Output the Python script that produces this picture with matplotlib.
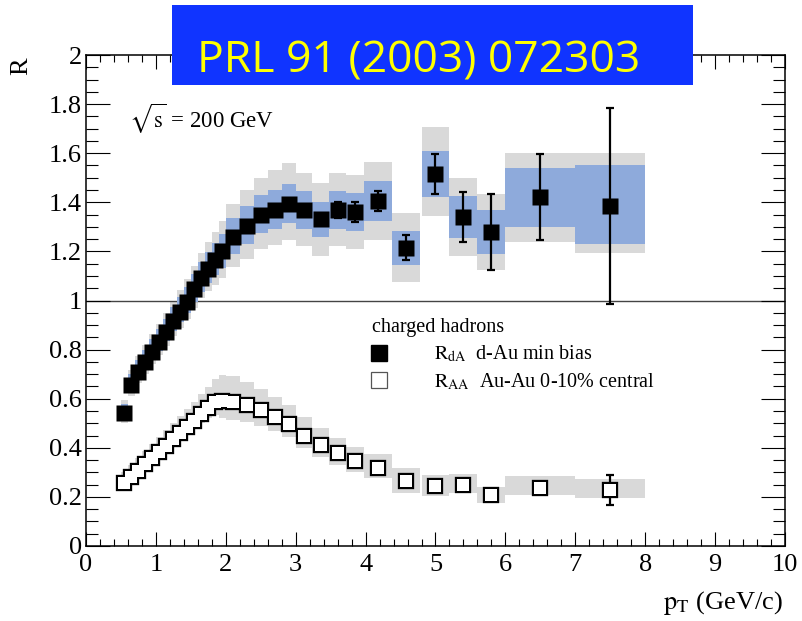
import matplotlib
matplotlib.use('Agg')
import matplotlib.pyplot as plt
from matplotlib.patches import Rectangle
from matplotlib.lines import Line2D
from matplotlib.ticker import MultipleLocator, FuncFormatter
import numpy as np

plt.rcParams['font.family'] = ['Liberation Serif', 'DejaVu Serif']
plt.rcParams['mathtext.fontset'] = 'stix'

# ---------------- data ----------------
pT = [0.55, 0.65, 0.75, 0.85, 0.95, 1.05, 1.15, 1.25, 1.35, 1.45, 1.55, 1.65, 1.75, 1.85, 1.95,
      2.1, 2.3, 2.5, 2.7, 2.9, 3.12, 3.36, 3.6, 3.85, 4.18, 4.58, 5.0, 5.4, 5.8, 6.5, 7.5]
bin_width = [0.1, 0.1, 0.1, 0.1, 0.1, 0.1, 0.1, 0.1, 0.1, 0.1, 0.1, 0.1, 0.1, 0.1, 0.1,
             0.2, 0.2, 0.2, 0.2, 0.2, 0.24, 0.24, 0.25, 0.25, 0.4, 0.4, 0.4, 0.4, 0.4, 1.0, 1.0]

# d-Au min bias
R_dA = [0.54, 0.655, 0.71, 0.75, 0.79, 0.83, 0.87, 0.915, 0.955, 0.995, 1.045, 1.09, 1.13, 1.165, 1.20,
        1.26, 1.305, 1.35, 1.37, 1.395, 1.37, 1.33, 1.37, 1.36, 1.405, 1.215, 1.515, 1.34, 1.28, 1.42, 1.385]
stat_dA = [0.005, 0.005, 0.005, 0.005, 0.005, 0.005, 0.005, 0.005, 0.005, 0.005, 0.006, 0.006, 0.006, 0.007, 0.007,
           0.008, 0.008, 0.009, 0.01, 0.012, 0.015, 0.02, 0.032, 0.04, 0.042, 0.05, 0.08, 0.10, 0.155, 0.175, 0.40]
blue_dA_hi = [0.04, 0.045, 0.048, 0.05, 0.052, 0.054, 0.056, 0.058, 0.06, 0.062, 0.064, 0.066, 0.068, 0.07, 0.072,
              0.076, 0.078, 0.079, 0.08, 0.08, 0.078, 0.073, 0.077, 0.078, 0.082, 0.07, 0.095, 0.085, 0.09, 0.12, 0.165]
blue_dA_lo = [0.025, 0.027, 0.029, 0.031, 0.033, 0.035, 0.037, 0.04, 0.043, 0.046, 0.05, 0.054, 0.058, 0.062, 0.066,
              0.07, 0.074, 0.076, 0.078, 0.08, 0.078, 0.073, 0.077, 0.078, 0.082, 0.07, 0.095, 0.085, 0.09, 0.12, 0.155]
gray_dA_hi = [0.055, 0.06, 0.064, 0.068, 0.072, 0.076, 0.08, 0.084, 0.088, 0.092, 0.097, 0.102, 0.108, 0.115, 0.122,
              0.135, 0.145, 0.15, 0.16, 0.165, 0.15, 0.15, 0.15, 0.15, 0.16, 0.14, 0.19, 0.16, 0.155, 0.18, 0.215]
gray_dA_lo = [0.04, 0.042, 0.045, 0.048, 0.05, 0.053, 0.056, 0.06, 0.065, 0.07, 0.075, 0.08, 0.09, 0.10, 0.11,
              0.125, 0.135, 0.14, 0.145, 0.15, 0.15, 0.15, 0.15, 0.15, 0.16, 0.14, 0.17, 0.16, 0.155, 0.18, 0.19]

# Au-Au 0-10% central
R_AA = [0.255, 0.281, 0.306, 0.332, 0.357, 0.383, 0.408, 0.434, 0.459, 0.485, 0.51, 0.536, 0.561, 0.585, 0.59,
        0.588, 0.575, 0.555, 0.527, 0.497, 0.45, 0.411, 0.379, 0.346, 0.318, 0.265, 0.244, 0.25, 0.206, 0.236, 0.228]
stat_AA = [0.003, 0.003, 0.003, 0.003, 0.003, 0.003, 0.003, 0.003, 0.003, 0.003, 0.003, 0.003, 0.004, 0.004, 0.004,
           0.004, 0.004, 0.005, 0.005, 0.005, 0.006, 0.006, 0.007, 0.008, 0.009, 0.01, 0.012, 0.014, 0.016, 0.022, 0.062]
gray_AA_hi = [0.045, 0.05, 0.052, 0.055, 0.058, 0.06, 0.063, 0.066, 0.07, 0.073, 0.077, 0.082, 0.088, 0.095, 0.105,
              0.105, 0.095, 0.085, 0.08, 0.078, 0.075, 0.068, 0.062, 0.057, 0.055, 0.053, 0.045, 0.043, 0.034, 0.048, 0.045]
gray_AA_lo = [0.025, 0.025, 0.026, 0.027, 0.028, 0.029, 0.03, 0.03, 0.031, 0.032, 0.034, 0.036, 0.04, 0.05, 0.07,
              0.075, 0.07, 0.065, 0.06, 0.055, 0.05, 0.05, 0.048, 0.045, 0.043, 0.049, 0.04, 0.034, 0.032, 0.028, 0.032]

x_ticks = [0, 1, 2, 3, 4, 5, 6, 7, 8, 9, 10]
y_ticks = [0, 0.2, 0.4, 0.6, 0.8, 1.0, 1.2, 1.4, 1.6, 1.8, 2.0]

GRAY = '#d9d9d9'
BLUE = '#8eaadb'
PX = 72.0 / 100.0  # points per pixel

# ---------------- figure ----------------
fig = plt.figure(figsize=(8.03, 6.21), dpi=100)
ax = fig.add_axes([86 / 803, 1 - 546 / 621, 699 / 803, 491 / 621])

pT_a = np.array(pT)
w_a = np.array(bin_width)

def boxes(R, lo, hi, color, z):
    R = np.array(R); lo = np.array(lo); hi = np.array(hi)
    ax.bar(pT_a, lo + hi, bottom=R - lo, width=w_a, color=color, linewidth=0, zorder=z)

boxes(R_dA, gray_dA_lo, gray_dA_hi, GRAY, 1)
boxes(R_dA, blue_dA_lo, blue_dA_hi, BLUE, 2)
boxes(R_AA, gray_AA_lo, gray_AA_hi, GRAY, 1)

ax.axhline(1.0, color='#444444', lw=1.0, zorder=1.5)

# error bars
ax.errorbar(pT, R_dA, yerr=stat_dA, fmt='none', ecolor='k', elinewidth=1.6,
            capsize=3.0, capthick=1.6, zorder=4)
ax.errorbar(pT, R_AA, yerr=stat_AA, fmt='none', ecolor='k', elinewidth=1.6,
            capsize=3.0, capthick=1.6, zorder=4)

# markers
ax.plot(pT, R_dA, ls='none', marker='s', ms=16 * PX, mfc='k', mec='none', zorder=5)
ax.plot(pT, R_AA, ls='none', marker='s', ms=14.5 * PX, mfc='white', mec='k', mew=2.3 * PX, zorder=5)
ax.plot(pT, R_AA, ls='none', marker='s', ms=12.2 * PX, mfc='white', mec='none', mew=0, zorder=5.1)

# axes styling
ax.set_xlim(0, 10)
ax.set_ylim(0, 2)
ax.set_xticks(x_ticks)
ax.set_yticks(y_ticks)
ax.xaxis.set_minor_locator(MultipleLocator(0.2))
ax.yaxis.set_minor_locator(MultipleLocator(0.05))
ax.yaxis.set_major_formatter(FuncFormatter(lambda v, p: '%g' % v))
ax.xaxis.set_major_formatter(FuncFormatter(lambda v, p: '%g' % v))
for s in ax.spines.values():
    s.set_linewidth(1.1)
ax.tick_params(which='both', direction='in', top=True, right=True, width=0.8, labelsize=19)
ax.tick_params(axis='x', which='major', length=10, pad=6)
ax.tick_params(axis='x', which='minor', length=5)
ax.tick_params(axis='y', which='major', length=17, pad=3)
ax.tick_params(axis='y', which='minor', length=8.6)

# annotations
ax.text(0.62, 1.74, r'$\sqrt{\mathrm{s}}$ = 200 GeV', fontsize=16.5, ha='left', va='center')

h1 = Line2D([], [], ls='none', marker='s', ms=12, mfc='k', mec='k')
h2 = Line2D([], [], ls='none', marker='s', ms=11.5, mfc='white', mec='#555555', mew=0.9)
leg = ax.legend([h1, h2],
                [r'$\mathrm{R_{dA}}$  d-Au min bias', r'$\mathrm{R_{AA}}$  Au-Au 0-10% central'],
                title='charged hadrons', loc='upper left',
                bbox_to_anchor=((372 - 86) / 699, (546 - 318) / 491),
                frameon=False, fontsize=14.5, title_fontsize=14.5, alignment='left',
                handlelength=0.7, handletextpad=2.4, labelspacing=0.35,
                borderpad=0, borderaxespad=0)

fig.text(21 / 803, 1 - 66 / 621, 'R', rotation=90, fontsize=19, ha='center', va='center')
fig.text(783 / 803, 1 - 603 / 621, r'$\mathrm{p_T}$ (GeV/c)', fontsize=19, ha='right', va='center')

# title banner
fig.add_artist(Rectangle((172 / 803, 1 - 85 / 621), 521 / 803, 80 / 621,
                         transform=fig.transFigure, facecolor='#1034ff', edgecolor='none', zorder=10))
fig.text(197 / 803, 1 - 72 / 621, 'PRL 91 (2003) 072303', color='#ffff00', fontsize=32,
         family='Open Sans', ha='left', va='baseline', zorder=11)

fig.savefig('out.png', dpi=100)
